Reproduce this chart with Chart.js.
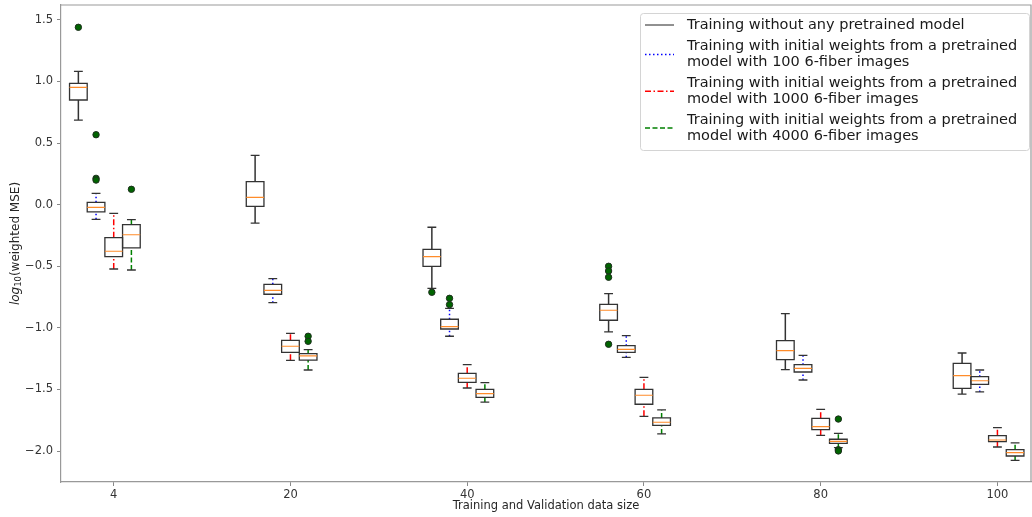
<!DOCTYPE html>
<html>
<head>
<meta charset="utf-8">
<script src="https://cdn.jsdelivr.net/npm/chart.js@4/dist/chart.umd.min.js"></script>
<style>
html, body { margin: 0; padding: 0; background: #fff; overflow: hidden; }
#wrap { width: 1032px; height: 517px; overflow: hidden; }
#box { width: 1036px; height: 517px; position: relative; }
</style>
</head>
<body>
<div id="wrap"><div id="box"><canvas id="chart"></canvas></div></div>
<script>
// x categories (data size) and y tick values
const tickLabels = ['4', '20', '40', '60', '80', '100'];
const yTicks = [-2.0, -1.5, -1.0, -0.5, 0.0, 0.5, 1.0, 1.5];

const seriesNames = [
    ['Training without any pretrained model'],
    ['Training with initial weights from a pretrained', 'model with 100 6-fiber images'],
    ['Training with initial weights from a pretrained', 'model with 1000 6-fiber images'],
    ['Training with initial weights from a pretrained', 'model with 4000 6-fiber images']
];

// box stats per data size: [low whisker, Q1, median, Q3, high whisker]
const noPretrain = [
    [0.687, 0.850, 0.953, 0.985, 1.083],
    [-0.149, -0.013, 0.060, 0.187, 0.401],
    [-0.679, -0.500, -0.422, -0.362, -0.183],
    [-1.033, -0.938, -0.857, -0.809, -0.722],
    [-1.339, -1.258, -1.185, -1.104, -0.885],
    [-1.537, -1.491, -1.388, -1.288, -1.204]
];
const pre100 = [
    [-0.119, -0.059, -0.021, 0.019, 0.092],
    [-0.795, -0.727, -0.695, -0.646, -0.600],
    [-1.068, -1.009, -0.990, -0.930, -0.841],
    [-1.239, -1.198, -1.174, -1.144, -1.063],
    [-1.423, -1.358, -1.328, -1.299, -1.223],
    [-1.520, -1.458, -1.429, -1.396, -1.342]
];
const pre1000 = [
    [-0.522, -0.422, -0.378, -0.268, -0.070],
    [-1.263, -1.198, -1.149, -1.101, -1.044],
    [-1.488, -1.442, -1.409, -1.369, -1.299],
    [-1.718, -1.620, -1.547, -1.499, -1.401],
    [-1.872, -1.826, -1.802, -1.734, -1.661],
    [-1.967, -1.924, -1.910, -1.875, -1.810]
];
const pre4000 = [
    [-0.530, -0.351, -0.244, -0.162, -0.122],
    [-1.342, -1.261, -1.228, -1.209, -1.177],
    [-1.602, -1.564, -1.534, -1.499, -1.445],
    [-1.861, -1.791, -1.766, -1.731, -1.666],
    [-1.972, -1.937, -1.921, -1.904, -1.856],
    [-2.075, -2.040, -2.013, -1.989, -1.934]
];

// outliers (fliers) per data size
const noPretrainOut = [[1.44], [], [-0.711], [-0.500, -0.538, -0.589, -1.133], [], []];
const pre100Out = [[0.568, 0.214, 0.200], [], [-0.760, -0.811], [], [], []];
const pre1000Out = [[], [], [], [], [], []];
const pre4000Out = [[0.125], [-1.068, -1.109], [], [], [-1.740, -1.989, -1.999], []];

const allStats = [noPretrain, pre100, pre1000, pre4000];
const allOut = [noPretrainOut, pre100Out, pre1000Out, pre4000Out];

// layout of the boxes inside a group
const offsets = [-0.2, -0.1, 0, 0.1];
const boxW = 0.1;
const capW = 0.05;
const whiskerColors = ['#333333', '#0000ff', '#ff0000', '#008000'];
const whiskerDash = [[], [1.5, 2.5], [6, 2.5, 1.5, 2.5], [5, 2.5]];

function gap(x) { return { x: x, y: null }; }

function buildDatasets() {
    const top = [], mid = [], low = [];
    allStats.forEach((stats, k) => {
        const box = [], med = [], whisk = [], caps = [], fl = [];
        stats.forEach((s, i) => {
            const c = i + 1 + offsets[k];
            const l = c - boxW / 2, r = c + boxW / 2;
            box.push({x: l, y: s[1]}, {x: r, y: s[1]}, {x: r, y: s[3]}, {x: l, y: s[3]}, {x: l, y: s[1]}, gap(l));
            med.push({x: l, y: s[2]}, {x: r, y: s[2]}, gap(r));
            whisk.push({x: c, y: s[0]}, {x: c, y: s[1]}, gap(c), {x: c, y: s[3]}, {x: c, y: s[4]}, gap(c));
            caps.push({x: c - capW / 2, y: s[0]}, {x: c + capW / 2, y: s[0]}, gap(c),
                      {x: c - capW / 2, y: s[4]}, {x: c + capW / 2, y: s[4]}, gap(c));
            allOut[k][i].forEach(v => fl.push({x: c, y: v}));
        });
        const line = { pointRadius: 0, fill: false, tension: 0, spanGaps: false };
        top.push({ data: fl, showLine: false, pointRadius: 3.2, pointBackgroundColor: '#006400',
                   pointBorderColor: '#1e2e1e', pointBorderWidth: 1 });
        mid.push(Object.assign({ data: med, borderColor: '#ff8c2a', borderWidth: 1.2 }, line));
        mid.push(Object.assign({ data: box, borderColor: '#333333', borderWidth: 1.3, borderCapStyle: 'square' }, line));
        low.push(Object.assign({ data: caps, borderColor: '#333333', borderWidth: 1.3 }, line));
        low.push(Object.assign({ data: whisk, borderColor: whiskerColors[k], borderWidth: 1.5,
                                 borderDash: whiskerDash[k] }, line));
    });
    return top.concat(mid, low);
}

const framePlugin = {
    id: 'frame',
    afterDraw(chart) {
        const { ctx, chartArea: a } = chart;
        ctx.save();
        ctx.strokeStyle = '#999999';
        ctx.lineWidth = 1.2;
        ctx.beginPath();
        ctx.moveTo(a.left, a.top);
        ctx.lineTo(a.right, a.top);
        ctx.lineTo(a.right, a.bottom);
        ctx.stroke();

        // y title: log_10(weighted MSE)
        const size = 12;
        const parts = [
            { t: 'log', f: 'italic ' + size + 'px "DejaVu Sans"', dy: 0 },
            { t: '10', f: (size * 0.7) + 'px "DejaVu Sans"', dy: 3 },
            { t: '(weighted MSE)', f: size + 'px "DejaVu Sans"', dy: 0 }
        ];
        let total = 0;
        parts.forEach(p => { ctx.font = p.f; p.w = ctx.measureText(p.t).width; total += p.w; });
        ctx.translate(16, (a.top + a.bottom) / 2);
        ctx.rotate(-Math.PI / 2);
        ctx.fillStyle = '#262626';
        ctx.textBaseline = 'middle';
        let x = -total / 2;
        parts.forEach(p => { ctx.font = p.f; ctx.fillText(p.t, x, p.dy); x += p.w; });
        ctx.restore();

        // legend
        ctx.save();
        const lx = 640, ly = 13, lw = 389, lh = 137;
        ctx.fillStyle = 'rgba(255,255,255,0.85)';
        ctx.strokeStyle = '#d4d4d4';
        ctx.lineWidth = 1;
        ctx.beginPath();
        ctx.roundRect(lx + 0.5, ly + 0.5, lw, lh, 3);
        ctx.fill();
        ctx.stroke();
        const rows = [[25], [46.7, 62.3], [83.3, 99.3], [120, 136]];
        ctx.font = '14.5px "DejaVu Sans"';
        ctx.textBaseline = 'middle';
        seriesNames.forEach((lines, k) => {
            const ys = rows[k];
            const sy = (ys[0] + ys[ys.length - 1]) / 2;
            ctx.strokeStyle = k === 0 ? '#222222' : whiskerColors[k];
            ctx.lineWidth = k === 0 ? 1 : 1.5;
            ctx.setLineDash(whiskerDash[k]);
            ctx.beginPath();
            ctx.moveTo(645, sy);
            ctx.lineTo(674, sy);
            ctx.stroke();
            ctx.setLineDash([]);
            ctx.fillStyle = '#1a1a1a';
            lines.forEach((t, j) => ctx.fillText(t, 687, ys[j]));
        });
        ctx.restore();
    }
};

Chart.defaults.font.family = '"DejaVu Sans"';
Chart.defaults.color = '#333333';

new Chart(document.getElementById('chart'), {
    type: 'line',
    data: { datasets: buildDatasets() },
    options: {
        responsive: true,
        maintainAspectRatio: false,
        animation: false,
        events: [],
        layout: { padding: { top: 5, left: 0, right: 0, bottom: 0 } },
        plugins: { legend: { display: false }, tooltip: { enabled: false } },
        scales: {
            x: {
                type: 'linear',
                min: 0.7017,
                max: 6.19,
                afterFit: s => { s.height = 35; s.paddingLeft = 0; s.paddingRight = 0; },
                afterBuildTicks: s => { s.ticks = tickLabels.map((_, i) => ({ value: i + 1 })); },
                grid: { drawOnChartArea: false, drawTicks: true, tickLength: 4, color: '#888888' },
                border: { color: '#999999', width: 1.2 },
                ticks: { font: { size: 11.5 }, padding: 2, maxRotation: 0, callback: (v, i) => tickLabels[i] },
                title: { display: true, text: 'Training and Validation data size', font: { size: 11.5 },
                         padding: { top: 0, bottom: 4 }, color: '#262626' }
            },
            y: {
                min: -2.251,
                max: 1.621,
                afterFit: s => { s.width = 61; s.paddingTop = 0; s.paddingBottom = 0; },
                afterBuildTicks: s => { s.ticks = yTicks.map(v => ({ value: v })); },
                grid: { drawOnChartArea: false, drawTicks: true, tickLength: 4, color: '#888888' },
                border: { color: '#999999', width: 1.2 },
                ticks: { font: { size: 11.5 }, padding: 4,
                         callback: v => (v < 0 ? '\u2212' : '') + Math.abs(v).toFixed(1) }
            }
        }
    },
    plugins: [framePlugin]
});
</script>
</body>
</html>
